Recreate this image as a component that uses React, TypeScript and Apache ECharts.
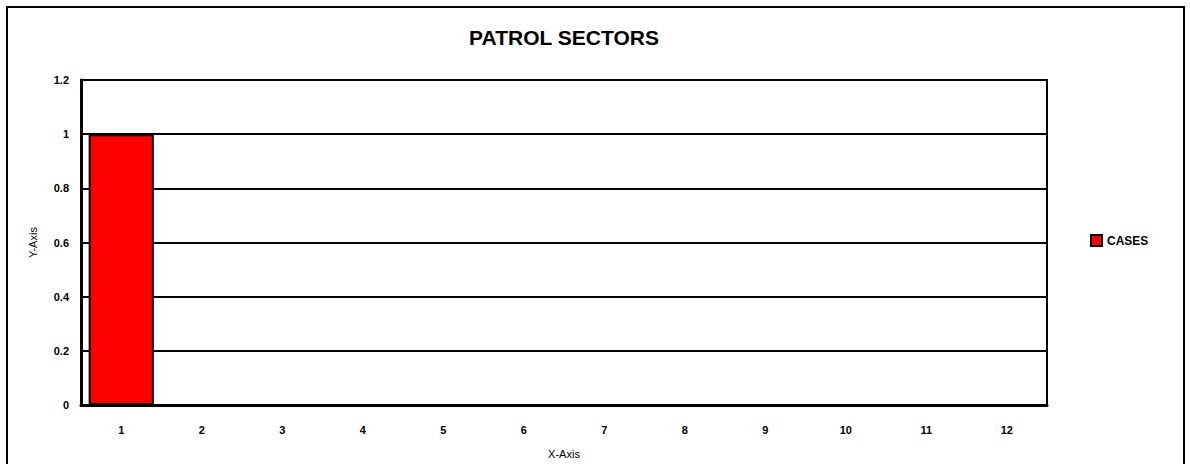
import React, { useEffect, useRef } from "react";
import * as echarts from "echarts";

const categories = ["1", "2", "3", "4", "5", "6", "7", "8", "9", "10", "11", "12"];
const casesValues = [1, 0, 0, 0, 0, 0, 0, 0, 0, 0, 0, 0];
const seriesName = "CASES";
const titleText = "PATROL SECTORS";

export default function App() {
  const ref = useRef<HTMLDivElement>(null);
  useEffect(() => {
    const chart = echarts.init(ref.current!, null, { renderer: "svg" });
    const font = "Liberation Sans";
    chart.setOption({
      animation: false,
      backgroundColor: "#fff",
      textStyle: { fontFamily: font },
      title: {
        text: titleText,
        left: 564,
        textAlign: "center",
        top: 27,
        padding: 0,
        textStyle: { fontFamily: font, fontSize: 21, fontWeight: "bold", color: "#000" },
      },
      legend: {
        data: [seriesName],
        orient: "vertical",
        left: 1090,
        top: 234,
        padding: 0,
        itemWidth: 11,
        itemHeight: 11,
        itemGap: 4,
        textStyle: { fontFamily: font, fontSize: 12, fontWeight: "bold", color: "#000" },
        icon: "rect",
      },
      grid: {
        left: 81,
        top: 80,
        width: 966,
        height: 325,
        show: true,
        borderColor: "#000",
        borderWidth: 2,
        backgroundColor: "transparent",
      },
      xAxis: {
        type: "category",
        data: categories,
        name: "X-Axis",
        nameLocation: "middle",
        nameGap: 43,
        nameTextStyle: { fontFamily: font, fontSize: 11, color: "#000" },
        axisLine: { show: true, lineStyle: { color: "#000", width: 3 } },
        axisTick: { show: false },
        axisLabel: { fontFamily: font, fontSize: 11, fontWeight: "bold", color: "#000", margin: 19 },
      },
      yAxis: {
        type: "value",
        min: 0,
        max: 1.2,
        interval: 0.2,
        name: "Y-Axis",
        nameLocation: "middle",
        nameGap: 43,
        nameTextStyle: { fontFamily: font, fontSize: 11, color: "#000" },
        axisLine: { show: true, lineStyle: { color: "#000", width: 3 } },
        axisTick: { show: true, length: 5, inside: true, lineStyle: { color: "#000", width: 2 } },
        axisLabel: {
          fontFamily: font,
          fontSize: 11,
          fontWeight: "bold",
          color: "#000",
          margin: 12,
          formatter: (v: number) => String(Math.round(v * 10) / 10),
        },
        splitLine: { show: true, lineStyle: { color: "#000", width: 2 } },
      },
      series: [
        {
          name: seriesName,
          type: "bar",
          data: casesValues,
          barWidth: "81%",
          itemStyle: { color: "#ff0000", borderColor: "#000", borderWidth: 2 },
        },
      ],
      graphic: [
        {
          type: "rect",
          shape: { x: 7, y: 7, width: 1177, height: 470 },
          style: { fill: "none", stroke: "#000", lineWidth: 2 },
          silent: true,
        },
      ],
    });
    return () => chart.dispose();
  }, []);
  return (
    <div
      ref={ref}
      style={{ position: "absolute", left: 0, top: 0, width: 1190, height: 464 }}
    />
  );
}
